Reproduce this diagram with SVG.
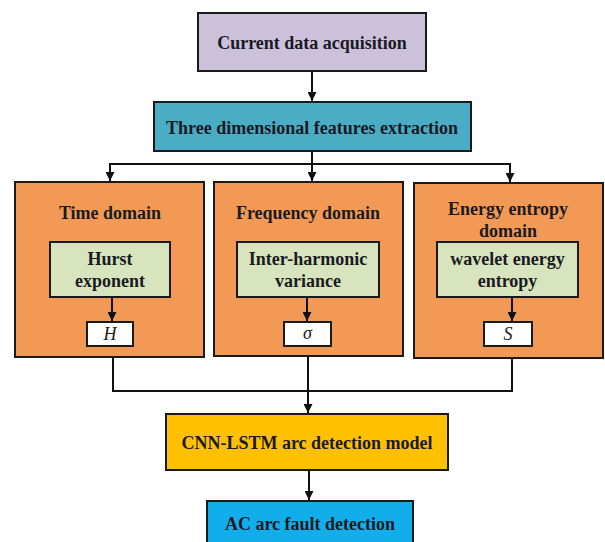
<svg xmlns="http://www.w3.org/2000/svg" width="605" height="542" viewBox="0 0 605 542">
<defs>
<style>
.box{stroke:#1a1a1a;stroke-width:2}
.t{font-family:"Liberation Serif","Times New Roman",serif;font-weight:bold;font-size:18px;fill:#1a1a22;text-anchor:middle}
.v{font-family:"Liberation Serif","Times New Roman",serif;font-style:italic;font-size:18px;fill:#1a1a1a;text-anchor:middle}
.ln{stroke:#111;stroke-width:2;fill:none}
</style>
<marker id="ah" viewBox="0 0 10 10" refX="10" refY="5" markerWidth="9" markerHeight="9" markerUnits="userSpaceOnUse" orient="auto">
<path d="M0,0 L10,5 L0,10 z" fill="#111"/>
</marker>
</defs>
<rect width="605" height="542" fill="#ffffff"/>
<g id="acquisition">
<rect class="box" x="198" y="13" width="228" height="58" fill="#CCC1DA"/>
<text class="t" x="312" y="48.5">Current data acquisition</text>
</g>
<g id="extraction">
<rect class="box" x="154" y="102" width="317" height="49" fill="#4BACC6"/>
<text class="t" x="312" y="133.5">Three dimensional features extraction</text>
</g>
<g id="time-domain">
<rect class="box" x="15" y="182" width="189" height="175" fill="#F29A55"/>
<text class="t" x="110" y="218.5">Time domain</text>
</g>
<g id="hurst">
<rect class="box" x="50" y="242" width="120" height="55" fill="#D7E4BD"/>
<text class="t" x="110" y="264.5">Hurst</text>
<text class="t" x="110" y="286.5">exponent</text>
</g>
<g id="H">
<rect class="box" x="87" y="322" width="46" height="24" fill="#ffffff"/>
<text class="v" x="110" y="340">H</text>
</g>
<g id="frequency-domain">
<rect class="box" x="214" y="182" width="189" height="174" fill="#F29A55"/>
<text class="t" x="308" y="218.5">Frequency domain</text>
</g>
<g id="interharmonic">
<rect class="box" x="237" y="242" width="142" height="55" fill="#D7E4BD"/>
<text class="t" x="308" y="264.5">Inter-harmonic</text>
<text class="t" x="308" y="286.5">variance</text>
</g>
<g id="sigma">
<rect class="box" x="284" y="322" width="47" height="24" fill="#ffffff"/>
<text class="v" x="307.5" y="339">σ</text>
</g>
<g id="energy-domain">
<rect class="box" x="414" y="183" width="189" height="175" fill="#F29A55"/>
<text class="t" x="508" y="214.5">Energy entropy</text>
<text class="t" x="508" y="236.5">domain</text>
</g>
<g id="wavelet">
<rect class="box" x="437" y="242" width="141" height="55" fill="#D7E4BD"/>
<text class="t" x="507.5" y="264.5">wavelet energy</text>
<text class="t" x="507.5" y="286.5">entropy</text>
</g>
<g id="S">
<rect class="box" x="484" y="322" width="48" height="24" fill="#ffffff"/>
<text class="v" x="508" y="340">S</text>
</g>
<g id="cnn-lstm">
<rect class="box" x="166" y="414" width="282" height="56" fill="#FFC000"/>
<text class="t" x="307" y="448.5">CNN-LSTM arc detection model</text>
</g>
<g id="ac-fault">
<rect class="box" x="207" y="501" width="206" height="50" fill="#12AEEC"/>
<text class="t" x="310" y="529.5">AC arc fault detection</text>
</g>
<g id="connectors">
<line class="ln" x1="312" y1="72" x2="312" y2="101" marker-end="url(#ah)"/>
<line class="ln" x1="312" y1="152" x2="312" y2="164"/>
<line class="ln" x1="109" y1="164" x2="511" y2="164"/>
<line class="ln" x1="110" y1="164" x2="110" y2="181" marker-end="url(#ah)"/>
<line class="ln" x1="312" y1="164" x2="312" y2="181" marker-end="url(#ah)"/>
<line class="ln" x1="510" y1="164" x2="510" y2="182" marker-end="url(#ah)"/>
<line class="ln" x1="112" y1="298" x2="112" y2="321" marker-end="url(#ah)"/>
<line class="ln" x1="307" y1="298" x2="307" y2="321" marker-end="url(#ah)"/>
<line class="ln" x1="512" y1="298" x2="512" y2="321" marker-end="url(#ah)"/>
<polyline class="ln" points="113,358 113,391 512,391 512,359"/>
<line class="ln" x1="308" y1="357" x2="308" y2="413" marker-end="url(#ah)"/>
<line class="ln" x1="309" y1="471" x2="309" y2="500" marker-end="url(#ah)"/>
</g>
</svg>
